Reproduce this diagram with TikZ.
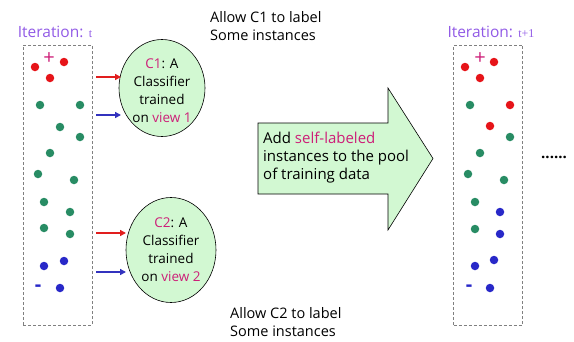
\documentclass[tikz,border=0pt]{standalone}
\usepackage{fontspec}
\setmainfont{Open Sans}
\newfontfamily\tfont{Liberation Serif}
\usetikzlibrary{arrows.meta,positioning,shapes.geometric}
\definecolor{itercol}{RGB}{145,90,230}
\definecolor{hilite}{RGB}{205,30,120}
\definecolor{redpt}{RGB}{230,20,25}
\definecolor{greenpt}{RGB}{40,140,100}
\definecolor{bluept}{RGB}{40,40,200}
\definecolor{paleg}{RGB}{210,248,210}
\definecolor{arrred}{RGB}{225,30,30}
\definecolor{arrblue}{RGB}{50,50,190}

\begin{document}
\begin{tikzpicture}[x=1pt, y=-1pt,
  pool/.style={draw=gray, densely dashed, line width=0.6pt, inner sep=0pt, minimum width=69pt, minimum height=280pt},
  ititle/.style={text=itercol, font=\fontsize{15.5}{17}\selectfont, inner sep=0pt},
  clf/.style={ellipse, draw, fill=paleg, line width=0.6pt, inner sep=0pt},
  ctxt/.style={align=center, font=\fontsize{13.5}{18}\selectfont, inner sep=0pt},
  note/.style={align=left, anchor=west, font=\fontsize{14.5}{18}\selectfont, inner sep=0pt},
  inst/.style={circle, inner sep=0pt, minimum size=8.5pt},
  rdot/.style={inst, fill=redpt},
  gdot/.style={inst, fill=greenpt},
  bdot/.style={inst, fill=bluept},
  sgn/.style={inner sep=0pt, font=\fontsize{20}{20}\selectfont},
  rarr/.style={arrred, line width=1.6pt, -{Triangle[length=6pt,width=6pt]}},
  barr/.style={arrblue, line width=1.6pt, -{Triangle[length=6pt,width=6pt]}},
  bigarr/.style={draw, fill=paleg, line width=0.6pt}
]
  \useasboundingbox (0,0) rectangle (574,341);
  % ---------------- pools of instances ----------------
  \node[pool] (poolL) at (57.5,185) {};
  \node[pool] (poolR) at (488,185) {};
  \node[ititle] (titleL) at (55,32) {Iteration: {\tfont\fontsize{12}{12}\selectfont t}};
  \node[ititle] (titleR) at (491,32) {Iteration: {\tfont\fontsize{12}{12}\selectfont t+1}};
  % iteration t
  \foreach \x/\y [count=\i] in {35/67,64/62,50/78}
    \node[rdot] (lr\i) at (\x,\y) {};
  \foreach \x/\y [count=\i] in {40/105,80/105,60/127,80/137,50/153,38/174,74/180,44/202,70/212,44/228,70/234}
    \node[gdot] (lg\i) at (\x,\y) {};
  \foreach \x/\y [count=\i] in {44/266,64/261,60/288}
    \node[bdot] (lb\i) at (\x,\y) {};
  \node[sgn, text=hilite] (plusL) at (49,59) {+};
  \node[sgn, text=bluept] (minusL) at (38,288) {\textbf{-}};
  % iteration t+1
  \foreach \x/\y [count=\i] in {465/67,494/62,480/78,510/105,490/126}
    \node[rdot] (rr\i) at (\x,\y) {};
  \foreach \x/\y [count=\i] in {470/105,510/137,480/153,468/174,504/180,475/202,475/229}
    \node[gdot] (rg\i) at (\x,\y) {};
  \foreach \x/\y [count=\i] in {500/212,500/234,475/266,494/260,490/288}
    \node[bdot] (rb\i) at (\x,\y) {};
  \node[sgn, text=hilite] (plusR) at (480,59) {+};
  \node[sgn, text=bluept] (minusR) at (469,288) {\textbf{-}};
  \node[inner sep=0pt, anchor=west, font=\fontsize{15}{15}\bfseries] (more) at (541,157) {......};
  % ---------------- classifiers ----------------
  \node[clf, minimum width=86pt, minimum height=97pt] (c1) at (162,88) {};
  \node[ctxt] (c1txt) at (162,91) {{\color{hilite}C1}: A\\Classifier\\trained\\on {\color{hilite}view 1}};
  \node[clf, minimum width=90pt, minimum height=105pt] (c2) at (171,250) {};
  \node[ctxt] (c2txt) at (171,250) {{\color{hilite}C2}: A\\Classifier\\trained\\on {\color{hilite}view 2}};
  \node[note] (lab1) at (210,26) {Allow C1 to label\\Some instances};
  \node[note] (lab2) at (230,322) {Allow C2 to label\\Some instances};
  % ---------------- views into classifiers ----------------
  \coordinate (r1s) at (96,77);  \coordinate (r1e) at (121,77);
  \coordinate (b1s) at (96,115); \coordinate (b1e) at (121,115);
  \coordinate (r2s) at (96,233); \coordinate (r2e) at (126,233);
  \coordinate (b2s) at (96,272); \coordinate (b2e) at (126,272);
  \draw[rarr] (r1s) -- (r1e);
  \draw[barr] (b1s) -- (b1e);
  \draw[rarr] (r2s) -- (r2e);
  \draw[barr] (b2s) -- (b2e);
  % ---------------- self-labeling step ----------------
  \draw[bigarr] (258,123) -- (388,123) -- (388,88) -- (433,158.5) -- (388,230) -- (388,194) -- (258,194) -- cycle;
  \node[note, font=\fontsize{15}{18}\selectfont] (addtxt) at (263,158) {Add {\color{hilite}self-labeled}\\instances to the pool\\of training data};
\end{tikzpicture}
\end{document}
